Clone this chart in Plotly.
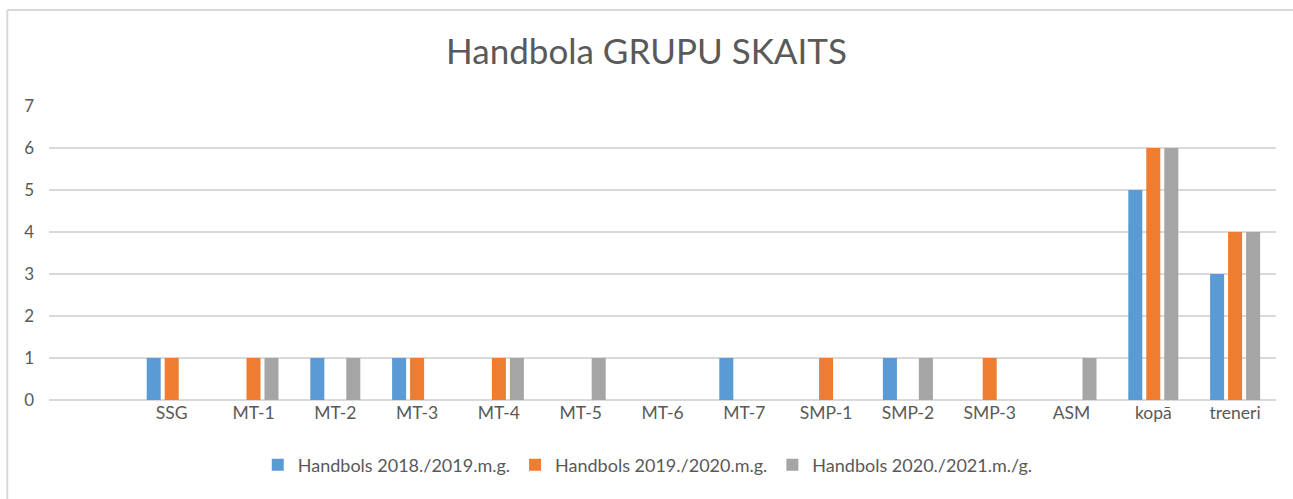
import plotly.graph_objects as go

# --- dados ---
categorias = [" ", "SSG", "MT-1", "MT-2", "MT-3", "MT-4", "MT-5", "MT-6", "MT-7",
              "SMP-1", "SMP-2", "SMP-3", "ASM", "kopā", "treneri"]
sezona_2018 = [None, 1, 0, 1, 1, 0, 0, 0, 1, 0, 1, 0, 0, 5, 3]
sezona_2019 = [None, 1, 1, 0, 1, 1, 0, 0, 0, 1, 0, 1, 0, 6, 4]
sezona_2020 = [None, 0, 1, 1, 0, 1, 1, 0, 0, 0, 1, 0, 1, 6, 4]

nosaukumi = ["Handbols 2018./2019.m.g.", "Handbols 2019./2020.m.g.", "Handbols 2020./2021.m./g."]
krasas = ["#5B9BD5", "#ED7D31", "#A5A5A5"]

fig = go.Figure()
for nos, vertibas, krasa in zip(nosaukumi, [sezona_2018, sezona_2019, sezona_2020], krasas):
    fig.add_trace(go.Bar(x=categorias, y=vertibas, name=nos, marker_color=krasa,
                         marker_line_width=0))

fonts = "Lato, 'Open Sans', sans-serif"
fig.update_layout(
    width=1293, height=499,
    paper_bgcolor="white", plot_bgcolor="white",
    margin=dict(l=49, r=17, t=106, b=99),
    barmode="group", bargap=0.34, bargroupgap=0.22,
    font=dict(family=fonts, color="#595959", size=17),
    title=dict(text="Handbola GRUPU SKAITS", x=0.5, xanchor="center",
               y=0.896, yanchor="middle", font=dict(size=35, color="#595959")),
    xaxis=dict(showgrid=False, showline=False, ticks="", tickfont=dict(size=17.5)),
    yaxis=dict(range=[0, 7], dtick=1, showgrid=True, gridcolor="#D9D9D9", gridwidth=1.5,
               zeroline=True, zerolinecolor="#D9D9D9", zerolinewidth=1.5,
               ticks="", tickfont=dict(size=17), ticklabelstandoff=14),
    legend=dict(orientation="h", x=0.488, xanchor="center", y=-0.221, yanchor="middle",
                font=dict(size=18), itemwidth=30),
    showlegend=True,
    shapes=[
        dict(type="line", xref="paper", yref="paper", x0=-0.034, x1=1.02, y0=1.3265, y1=1.3265,
             line=dict(color="#D9D9D9", width=2)),
        dict(type="line", xref="paper", yref="paper", x0=-0.034, x1=-0.034, y0=1.3265, y1=-0.35,
             line=dict(color="#D9D9D9", width=2)),
    ],
)

# remove a margem padrão do body para o gráfico ficar alinhado ao canto
fig.write_html("out.html", config={"displayModeBar": False},
               post_script="document.body.style.margin='0';")
